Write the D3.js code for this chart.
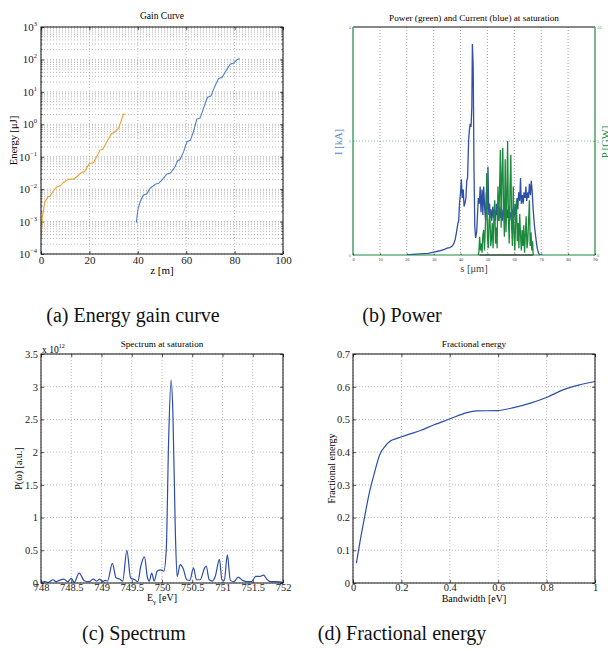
<!DOCTYPE html>
<html>
<head>
<meta charset="utf-8">
<script src="https://cdn.jsdelivr.net/npm/d3@7"></script>
<style>
  body { margin: 0; background: #fff; }
</style>
</head>
<body>
<svg id="fig" width="608" height="655"></svg>
<script>
// ---- (a) gain curve: energy in uJ vs z in m ----
const gainZOrange = [0, 0.55, 1.6, 3, 3.7, 4.8, 6.5, 7.9, 9.2, 11.3, 13.4, 15, 16.8, 17.9, 20, 21.7, 23, 24.4, 25.5, 27.2, 29.2, 30.2, 32, 33, 34, 34.8];
const gainEOrange = [2.8e-4, 1.4e-3, 4.1e-3, 5.9e-3, 5.9e-3, 8.3e-3, 1.17e-2, 1.26e-2, 1.58e-2, 2.0e-2, 2.04e-2, 2.5e-2, 3.3e-2, 3.4e-2, 6.2e-2, 6.5e-2, 0.10, 0.16, 0.17, 0.29, 0.52, 0.56, 0.75, 1.2, 2.0, 2.1];
const gainZBlue = [39.4, 40, 41, 42.3, 43.7, 45.1, 47.2, 48.6, 50.6, 52, 53.4, 55.4, 56.4, 57.5, 58.9, 60.3, 61.7, 63, 64.4, 65.8, 67.4, 68.8, 70.2, 71.7, 73.4, 74.8, 76.6, 78.2, 79.6, 81.2, 82];
const gainEBlue = [9.3e-4, 2.3e-3, 4.1e-3, 6.6e-3, 7.1e-3, 1.07e-2, 1.41e-2, 1.51e-2, 2.14e-2, 2.95e-2, 3.1e-2, 4.9e-2, 7.4e-2, 8.3e-2, 0.141, 0.29, 0.32, 0.59, 1.45, 1.58, 3.5, 6.8, 7.4, 14.1, 25.7, 27.5, 46.8, 70.8, 77.6, 100, 107];
const gainXTicks = [0, 20, 40, 60, 80, 100];
const gainYTicks = [1e-4, 1e-3, 1e-2, 1e-1, 1, 10, 100, 1000];
const gainYExp = ["\u22124", "\u22123", "\u22122", "\u22121", "0", "1", "2", "3"];

// ---- (b) current (kA) and power (GW) vs s in um ----
const curS = [20, 22, 25, 28, 30, 32, 34, 35, 36, 37, 37.5, 38, 38.5, 39, 39.3, 39.6, 40, 40.3, 40.6, 41, 41.3, 41.6, 42, 42.3, 42.6, 43, 43.3, 43.6, 43.9, 44.2, 44.4, 44.7, 45, 45.3, 45.6, 46, 46.3, 46.6, 47, 47.3, 47.6, 48, 48.3, 48.6, 49, 49.3, 49.6, 50, 50.2, 50.5, 50.8, 51, 51.3, 51.6, 52, 52.3, 52.6, 53, 53.3, 53.6, 54, 54.3, 54.6, 55, 55.3, 55.6, 56, 56.3, 56.6, 57, 57.3, 57.6, 58, 58.3, 58.6, 59, 59.3, 59.6, 60, 60.3, 60.6, 61, 61.3, 61.6, 62, 62.3, 62.6, 63, 63.3, 63.6, 64, 64.3, 64.6, 65, 65.3, 65.6, 66, 66.3, 66.6, 67, 67.5, 68, 68.5, 69, 69.5, 70];
const curI = [0, 0.01, 0.02, 0.03, 0.05, 0.07, 0.1, 0.12, 0.13, 0.16, 0.2, 0.27, 0.4, 0.55, 0.6, 0.9, 1.1, 1.33, 1.0, 1.15, 0.85, 0.9, 1.0, 1.3, 1.35, 2.0, 2.2, 2.3, 2.25, 2.6, 3.7, 3.3, 1.5, 0.5, 0.3, 0.4, 0.7, 1.0, 0.9, 1.2, 0.75, 1.15, 0.7, 1.2, 0.8, 0.6, 1.1, 0.8, 1.55, 0.7, 0.9, 0.65, 0.8, 0.6, 0.85, 0.65, 0.8, 0.6, 0.9, 0.7, 0.75, 0.6, 0.85, 0.65, 0.8, 0.6, 0.85, 0.7, 0.75, 0.6, 0.8, 0.65, 0.85, 0.6, 0.75, 0.65, 0.8, 0.6, 0.7, 0.9, 0.7, 1.0, 0.8, 1.1, 0.95, 1.35, 0.9, 1.05, 0.9, 1.1, 1.0, 1.2, 0.95, 1.1, 1.0, 1.25, 1.05, 1.3, 1.15, 0.8, 0.5, 0.3, 0.12, 0.03, 0, 0];
const powS = [46.5, 46.8, 47.1, 47.4, 47.7, 48, 48.3, 48.6, 48.9, 49.2, 49.5, 49.75, 50, 50.3, 50.6, 50.9, 51.2, 51.5, 51.8, 52.1, 52.4, 52.7, 53, 53.3, 53.6, 53.9, 54.2, 54.5, 54.8, 55.1, 55.4, 55.7, 56, 56.3, 56.6, 56.9, 57.2, 57.5, 57.8, 58.1, 58.4, 58.7, 59, 59.3, 59.6, 59.9, 60.2, 60.5, 60.8, 61.1, 61.4, 61.7, 62, 62.3, 62.6, 62.9, 63.2, 63.5, 63.8, 64.1, 64.4, 64.7, 65, 65.3, 65.6, 65.9, 66.2, 66.5, 66.8, 67];
const powP = [0, 0.1, 0.8, 0.2, 0.5, 0.1, 0.9, 1.1, 0.2, 1.2, 2.0, 3.6, 0.8, 0.3, 1.5, 1.9, 0.4, 0.7, 1.4, 0.3, 1.6, 2.4, 0.5, 1.2, 0.3, 3.0, 1.5, 2.8, 4.6, 1.2, 3.5, 4.7, 2.0, 0.8, 4.2, 1.0, 2.5, 5.0, 1.6, 0.5, 3.0, 4.4, 1.2, 0.4, 3.0, 1.0, 0.2, 1.6, 2.4, 0.6, 1.4, 0.3, 1.8, 0.9, 0.2, 1.1, 0.4, 1.3, 0.1, 0.9, 1.7, 0.3, 0.6, 1.5, 2.4, 0.4, 1.0, 0.2, 0.6, 0];
const powXTicks = [0, 10, 20, 30, 40, 50, 60, 70, 80, 90];
const curYTicks = [0, 2, 4];
const powYTicks = [0, 5, 10];

// ---- (c) spectrum, P in units of 1e12 ----
const specE = [748.00, 748.06, 748.12, 748.2, 748.25, 748.3, 748.38, 748.44, 748.5, 748.55, 748.63, 748.72, 748.8, 748.86, 748.92, 748.97, 749.02, 749.06, 749.1, 749.18, 749.24, 749.3, 749.35, 749.42, 749.48, 749.55, 749.6, 749.65, 749.71, 749.76, 749.79, 749.83, 749.87, 749.92, 749.98, 750.03, 750.07, 750.11, 750.15, 750.18, 750.22, 750.25, 750.30, 750.35, 750.41, 750.46, 750.52, 750.57, 750.63, 750.7, 750.73, 750.78, 750.83, 750.88, 750.95, 750.99, 751.03, 751.08, 751.13, 751.19, 751.26, 751.33, 751.42, 751.48, 751.55, 751.62, 751.68, 751.73, 751.8, 751.9, 752.0];
const specP = [0.01, 0.02, 0.01, 0.05, 0.02, 0.04, 0.06, 0.02, 0.07, 0.01, 0.15, 0.03, 0.02, 0.06, 0.03, 0.06, 0.02, 0.04, 0.03, 0.30, 0.08, 0.06, 0.03, 0.50, 0.08, 0.05, 0.02, 0.26, 0.40, 0.08, 0.03, 0.15, 0.03, 0.18, 0.20, 0.18, 0.5, 2.2, 3.10, 2.6, 0.8, 0.1, 0.28, 0.22, 0.05, 0.04, 0.23, 0.05, 0.05, 0.22, 0.26, 0.05, 0.03, 0.10, 0.36, 0.05, 0.04, 0.43, 0.04, 0.02, 0.09, 0.04, 0.02, 0.02, 0.10, 0.10, 0.12, 0.06, 0.02, 0.02, 0.01];
const specXTicks = [748, 748.5, 749, 749.5, 750, 750.5, 751, 751.5, 752];
const specYTicks = [0, 0.5, 1, 1.5, 2, 2.5, 3, 3.5];

// ---- (d) fractional energy vs bandwidth ----
const bandW = [0.014, 0.03, 0.048, 0.067, 0.088, 0.11, 0.134, 0.154, 0.182, 0.237, 0.278, 0.333, 0.402, 0.471, 0.512, 0.595, 0.664, 0.733, 0.802, 0.87, 0.939, 1.0];
const fracE = [0.061, 0.131, 0.202, 0.274, 0.335, 0.391, 0.419, 0.434, 0.442, 0.456, 0.466, 0.483, 0.502, 0.521, 0.526, 0.527, 0.536, 0.55, 0.568, 0.591, 0.606, 0.616];
const fracXTicks = [0, 0.2, 0.4, 0.6, 0.8, 1];
const fracYTicks = [0, 0.1, 0.2, 0.3, 0.4, 0.5, 0.6, 0.7];

const FONT = '"Liberation Serif", "Times New Roman", serif';
const svg = d3.select('#fig').style('font-family', FONT);
const GRID = '#a8a8a8';

// draws dotted grid + inward ticks on all four sides
function frame(g, x, y, w, h, xt, yt, opts = {}) {
    const grid = g.append('g');
    xt.forEach(v => grid.append('line')
        .attr('x1', x(v)).attr('x2', x(v)).attr('y1', 0).attr('y2', h)
        .attr('stroke', GRID).attr('stroke-width', 0.8).attr('stroke-dasharray', '1,2'));
    (opts.yGrid || yt).forEach(v => grid.append('line')
        .attr('x1', 0).attr('x2', w).attr('y1', y(v)).attr('y2', y(v))
        .attr('stroke', GRID).attr('stroke-width', 0.8).attr('stroke-dasharray', '1,2'));

    const fs = opts.fontSize || 11;
    const bx = g.append('g').attr('transform', `translate(0,${h})`)
        .call(d3.axisBottom(x).tickValues(xt).tickSize(-3).tickPadding(opts.xPad || 1).tickFormat(d => String(d)));
    const tx = g.append('g')
        .call(d3.axisTop(x).tickValues(xt).tickSize(-3).tickFormat(''));
    const ly = g.append('g')
        .call(d3.axisLeft(y).tickValues(yt).tickSize(-3).tickPadding(3).tickFormat(opts.yFormat === null ? '' : d => String(d)));
    const ry = g.append('g').attr('transform', `translate(${w},0)`)
        .call(d3.axisRight(y).tickValues(yt).tickSize(-3).tickFormat(''));
    [bx, tx, ly, ry].forEach(a => {
        a.select('.domain').remove();
        a.selectAll('.tick line').attr('stroke', '#222').attr('stroke-width', 0.8);
        a.selectAll('text').attr('font-size', fs).attr('fill', '#222');
    });
    return { bx, ly };
}

function box(g, w, h) {
    g.append('rect').attr('width', w).attr('height', h)
        .attr('fill', 'none').attr('stroke', '#111').attr('stroke-width', 1);
}

function clip(id, w, h) {
    svg.append('clipPath').attr('id', id).append('rect').attr('width', w).attr('height', h);
    return `url(#${id})`;
}

function zipXY(xs, ys) { return xs.map((v, i) => [v, ys[i]]); }

// ================= (a) Gain Curve =================
{
    const L = 41, T = 27, w = 242, h = 227;
    const g = svg.append('g').attr('transform', `translate(${L},${T})`);
    const x = d3.scaleLinear().domain([0, 100]).range([0, w]);
    const y = d3.scaleLog().domain([1e-4, 1e3]).range([h, 0]);
    const minor = y.ticks();
    frame(g, x, y, w, h, gainXTicks, gainYTicks, { yGrid: minor, yFormat: null, xPad: 2 });
    // minor log ticks
    minor.filter(v => !gainYTicks.includes(v)).forEach(v => {
        g.append('line').attr('x1', 0).attr('x2', 1.6).attr('y1', y(v)).attr('y2', y(v)).attr('stroke', '#222').attr('stroke-width', 0.6);
        g.append('line').attr('x1', w - 1.6).attr('x2', w).attr('y1', y(v)).attr('y2', y(v)).attr('stroke', '#222').attr('stroke-width', 0.6);
    });
    gainYTicks.forEach((v, i) => {
        const t = g.append('text').attr('x', -4).attr('y', y(v) + 4)
            .attr('text-anchor', 'end').attr('font-size', 11).attr('fill', '#222');
        t.append('tspan').text('10');
        t.append('tspan').attr('dy', -5).attr('font-size', 6.5).text(gainYExp[i]);
    });
    const cp = clip('clipA', w, h);
    const line = d3.line().x(d => x(d[0])).y(d => y(d[1]));
    g.append('path').datum(zipXY(gainZOrange, gainEOrange)).attr('clip-path', cp)
        .attr('d', line).attr('fill', 'none').attr('stroke', '#eda32a').attr('stroke-width', 1.1);
    g.append('path').datum(zipXY(gainZBlue, gainEBlue)).attr('clip-path', cp)
        .attr('d', line).attr('fill', 'none').attr('stroke', '#4f80c9').attr('stroke-width', 1.1);
    box(g, w, h);
    svg.append('text').attr('x', L + w / 2).attr('y', 19).attr('text-anchor', 'middle').attr('font-size', 9.5).text('Gain Curve');
    svg.append('text').attr('x', L + w / 2).attr('y', 274).attr('text-anchor', 'middle').attr('font-size', 11).text('z [m]');
    svg.append('text').attr('transform', `translate(17,${T + h / 2}) rotate(-90)`).attr('text-anchor', 'middle').attr('font-size', 10.5).text('Energy [\u03bcJ]');
}

// ================= (b) Power and Current =================
{
    const L = 353, T = 27, w = 242, h = 228;
    const BLUE = '#3050a8', GREEN = '#1b8a3c';
    const g = svg.append('g').attr('transform', `translate(${L},${T})`);
    const x = d3.scaleLinear().domain([0, 90]).range([0, w]);
    const yI = d3.scaleLinear().domain([0, 4]).range([h, 0]);
    const yP = d3.scaleLinear().domain([0, 10]).range([h, 0]);
    powXTicks.slice(1, -1).forEach(v => g.append('line')
        .attr('x1', x(v)).attr('x2', x(v)).attr('y1', 0).attr('y2', h)
        .attr('stroke', '#777').attr('stroke-width', 0.7).attr('stroke-dasharray', '1,2'));
    g.append('line').attr('x1', 0).attr('x2', w).attr('y1', yI(2)).attr('y2', yI(2))
        .attr('stroke', '#6aaab0').attr('stroke-width', 0.8).attr('stroke-dasharray', '1,2');

    const cp = clip('clipB', w, h);
    g.append('path').datum(zipXY(curS, curI)).attr('clip-path', cp)
        .attr('d', d3.line().x(d => x(d[0])).y(d => yI(d[1])))
        .attr('fill', 'none').attr('stroke', BLUE).attr('stroke-width', 1.3);
    g.append('path').datum(zipXY(powS, powP)).attr('clip-path', cp)
        .attr('d', d3.line().x(d => x(d[0])).y(d => yP(d[1])))
        .attr('fill', 'none').attr('stroke', GREEN).attr('stroke-width', 1.3);

    // spines: top black, others green
    g.append('line').attr('x1', 0).attr('x2', w).attr('y1', 0).attr('y2', 0).attr('stroke', '#111').attr('stroke-width', 1);
    g.append('line').attr('x1', 0).attr('x2', 0).attr('y1', 0).attr('y2', h).attr('stroke', GREEN).attr('stroke-width', 1.2);
    g.append('line').attr('x1', w).attr('x2', w).attr('y1', 0).attr('y2', h).attr('stroke', GREEN).attr('stroke-width', 1.2);
    g.append('line').attr('x1', 0).attr('x2', w).attr('y1', h).attr('y2', h).attr('stroke', GREEN).attr('stroke-width', 1.2);
    g.append('line').attr('x1', x(47)).attr('x2', x(67)).attr('y1', h).attr('y2', h).attr('stroke', '#222').attr('stroke-width', 1.2);

    const ax = g.append('g').attr('transform', `translate(0,${h})`)
        .call(d3.axisBottom(x).tickValues(powXTicks).tickSize(-1.5).tickPadding(2.5).tickFormat(d => String(d)));
    const al = g.append('g').call(d3.axisLeft(yI).tickValues(curYTicks).tickSize(-1.5).tickPadding(2).tickFormat(d => String(d)));
    const ar = g.append('g').attr('transform', `translate(${w},0)`)
        .call(d3.axisRight(yP).tickValues(powYTicks).tickSize(-1.5).tickPadding(2).tickFormat(d => String(d)));
    [ax, al, ar].forEach(a => { a.select('.domain').remove(); a.selectAll('text').attr('font-size', 4.5); });
    ax.selectAll('.tick line').attr('stroke', '#444');
    ax.selectAll('text').attr('fill', '#444');
    al.selectAll('.tick line').attr('stroke', '#7090d0');
    al.selectAll('text').attr('fill', '#7090d0');
    ar.selectAll('.tick line').attr('stroke', '#4aa060');
    ar.selectAll('text').attr('fill', '#4aa060');

    svg.append('text').attr('x', L + w / 2).attr('y', 21).attr('text-anchor', 'middle').attr('font-size', 9.2)
        .text('Power (green) and Current (blue) at saturation');
    svg.append('text').attr('x', L + w / 2).attr('y', 272).attr('text-anchor', 'middle').attr('font-size', 10.5).attr('fill', '#444').text('s [\u03bcm]');
    svg.append('text').attr('transform', `translate(342,${T + h / 2 + 1}) rotate(-90)`).attr('text-anchor', 'middle')
        .attr('font-size', 10.5).attr('fill', '#5a7fcf').text('I [kA]');
    // right label sits on the page edge, partly cut as in the original
    svg.append('text').attr('transform', `translate(608.5,${T + h / 2 + 1}) rotate(-90)`).attr('text-anchor', 'middle')
        .attr('font-size', 10.5).attr('fill', GREEN).text('P [GW]');
}

// ================= (c) Spectrum =================
{
    const L = 41, T = 354, w = 242, h = 229;
    const g = svg.append('g').attr('transform', `translate(${L},${T})`);
    const x = d3.scaleLinear().domain([748, 752]).range([0, w]);
    const y = d3.scaleLinear().domain([0, 3.5]).range([h, 0]);
    frame(g, x, y, w, h, specXTicks, specYTicks, { fontSize: 10.5 });
    const cp = clip('clipC', w, h);
    g.append('path').datum(zipXY(specE, specP)).attr('clip-path', cp)
        .attr('d', d3.line().curve(d3.curveMonotoneX).x(d => x(d[0])).y(d => y(d[1])))
        .attr('fill', 'none').attr('stroke', '#2c4ea8').attr('stroke-width', 1.2);
    box(g, w, h);
    const m = svg.append('text').attr('x', L + 1).attr('y', T - 1.5).attr('font-size', 9.5);
    m.append('tspan').text('x 10');
    m.append('tspan').attr('dy', -5).attr('font-size', 6).text('12');
    svg.append('text').attr('x', L + w / 2).attr('y', 347).attr('text-anchor', 'middle').attr('font-size', 9.2).text('Spectrum at saturation');
    const xl = svg.append('text').attr('x', L + w / 2).attr('y', 601).attr('text-anchor', 'middle').attr('font-size', 10);
    xl.append('tspan').text('E');
    xl.append('tspan').attr('dy', 3).attr('font-size', 7).text('\u03b3');
    xl.append('tspan').attr('dy', -3).text(' [eV]');
    svg.append('text').attr('transform', `translate(22,${T + h / 2}) rotate(-90)`).attr('text-anchor', 'middle')
        .attr('font-size', 10).text('P(\u03c9) [a.u.]');
}

// ================= (d) Fractional energy =================
{
    const L = 353, T = 354, w = 242, h = 229;
    const g = svg.append('g').attr('transform', `translate(${L},${T})`);
    const x = d3.scaleLinear().domain([0, 1]).range([0, w]);
    const y = d3.scaleLinear().domain([0, 0.7]).range([h, 0]);
    frame(g, x, y, w, h, fracXTicks, fracYTicks, { fontSize: 10.5 });
    const cp = clip('clipD', w, h);
    g.append('path').datum(zipXY(bandW, fracE)).attr('clip-path', cp)
        .attr('d', d3.line().curve(d3.curveMonotoneX).x(d => x(d[0])).y(d => y(d[1])))
        .attr('fill', 'none').attr('stroke', '#2c4ea8').attr('stroke-width', 1.2);
    box(g, w, h);
    svg.append('text').attr('x', L + w / 2).attr('y', 347).attr('text-anchor', 'middle').attr('font-size', 9.2).text('Fractional energy');
    svg.append('text').attr('x', L + w / 2).attr('y', 602).attr('text-anchor', 'middle').attr('font-size', 10).text('Bandwidth [eV]');
    svg.append('text').attr('transform', `translate(335,${T + h / 2}) rotate(-90)`).attr('text-anchor', 'middle')
        .attr('font-size', 10).text('Fractional energy');
}

// ================= captions =================
const captions = [
    { t: '(a) Energy gain curve', x: 133, y: 322 },
    { t: '(b) Power', x: 402, y: 322 },
    { t: '(c) Spectrum', x: 134, y: 640 },
    { t: '(d) Fractional energy', x: 402, y: 640 }
];
svg.selectAll('text.cap').data(captions).enter().append('text')
    .attr('class', 'cap').attr('x', d => d.x).attr('y', d => d.y)
    .attr('text-anchor', 'middle').attr('font-size', 20).attr('fill', '#111')
    .text(d => d.t);

// every text in the serif face (axis groups set their own sans family)
svg.selectAll('text').style('font-family', FONT);
</script>
</body>
</html>
